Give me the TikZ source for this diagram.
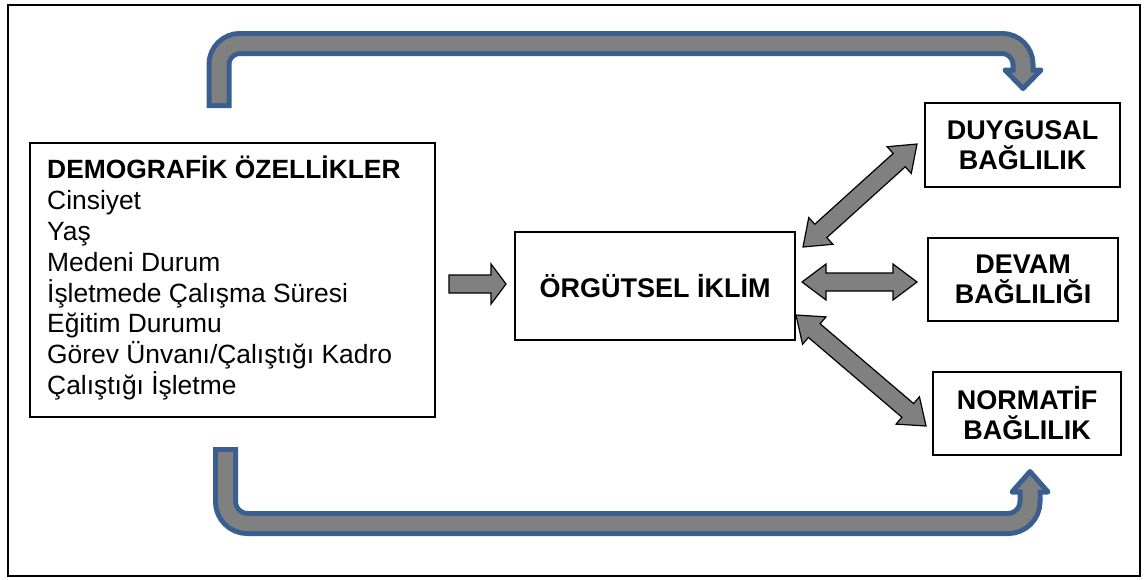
\documentclass[tikz,border=0pt]{standalone}
\usepackage{fontspec}
\setmainfont{Liberation Sans}
\usetikzlibrary{calc}

\definecolor{bandblue}{HTML}{3A5F8F}
\definecolor{bandgray}{HTML}{808080}

\tikzset{
  box/.style={draw=black, line width=2pt, fill=white, inner sep=0pt},
  title/.style={font=\bfseries\fontsize{27}{30}\selectfont, align=center},
  block/.style={draw=black, line width=1.2pt, fill=bandgray, line join=miter},
  bandout/.style={draw=bandblue, line width=25pt, line cap=butt},
  bandin/.style={draw=bandgray, line width=15pt, line cap=butt},
  bandhead/.style={draw=bandblue, fill=bandgray, line width=5pt, line join=round},
}

% two-headed block arrow between two named points
\newcommand\twowayblock[2]{%
  \pgfpointdiff{\pgfpointanchor{#1}{center}}{\pgfpointanchor{#2}{center}}%
  \pgfgetlastxy{\twdx}{\twdy}%
  \pgfmathsetmacro\twang{atan2(\twdy,\twdx)}%
  \pgfmathsetmacro\twlen{veclen(\twdx,\twdy)}%
  \begin{scope}[shift={(#1)}, rotate=\twang, x=1pt, y=1pt]
    \draw[block] (0,0) -- (24,18) -- (24,9) -- (\twlen-24,9) -- (\twlen-24,18)
      -- (\twlen,0) -- (\twlen-24,-18) -- (\twlen-24,-9) -- (24,-9) -- (24,-18) -- cycle;
  \end{scope}}

% one-headed block arrow from tail #1 to tip #2
\newcommand\onewayblock[2]{%
  \pgfpointdiff{\pgfpointanchor{#1}{center}}{\pgfpointanchor{#2}{center}}%
  \pgfgetlastxy{\owdx}{\owdy}%
  \pgfmathsetmacro\owang{atan2(\owdy,\owdx)}%
  \pgfmathsetmacro\owlen{veclen(\owdx,\owdy)}%
  \begin{scope}[shift={(#1)}, rotate=\owang, x=1pt, y=1pt]
    \draw[block] (0,9) -- (\owlen-15,9) -- (\owlen-15,20) -- (\owlen,0)
      -- (\owlen-15,-20) -- (\owlen-15,-9) -- (0,-9) -- cycle;
  \end{scope}}

\begin{document}
\begin{tikzpicture}[x=1pt, y=-1pt]
\useasboundingbox (0,0) rectangle (1145,579);
\draw[line width=2.5pt] (8,5) rectangle (1140,576);

% boxes
\node[box, minimum width=405pt, minimum height=274pt] (demo) at (232.5,280) {};
\node[anchor=north west, inner sep=0pt, align=left,
      font=\fontsize{26.4}{30.8}\selectfont] (demotext) at (47,156)
  {\textbf{DEMOGRAFİK ÖZELLİKLER}\\Cinsiyet\\Yaş\\Medeni Durum\\İşletmede Çalışma Süresi\\Eğitim Durumu\\Görev Ünvanı/Çalıştığı Kadro\\Çalıştığı İşletme};
\node[box, title, minimum width=280pt, minimum height=108pt] (org) at (655,286) {ÖRGÜTSEL İKLİM};
\node[box, title, minimum width=195pt, minimum height=84pt] (duy) at (1022.5,145) {DUYGUSAL\\BAĞLILIK};
\node[box, title, minimum width=190pt, minimum height=83pt] (dev) at (1023,279.5) {DEVAM\\BAĞLILIĞI};
\node[box, title, minimum width=188pt, minimum height=83pt] (nor) at (1027,413.5) {NORMATİF\\BAĞLILIK};

% block arrow end points
\coordinate (a1) at ($(demo.east)+(13,4)$);
\coordinate (a2) at ($(org.west)+(-8,-2)$);
\coordinate (d1) at ($(org.north east)+(7,16)$);
\coordinate (d2) at ($(duy.west)+(-7,-1)$);
\coordinate (v1) at ($(org.east)+(6,-4)$);
\coordinate (v2) at ($(dev.west)+(-10,2.5)$);
\coordinate (n1) at ($(org.east)+(0,29)$);
\coordinate (n2) at ($(nor.west)+(-6,12.5)$);

\onewayblock{a1}{a2}
\twowayblock{d1}{d2}
\twowayblock{v1}{v2}
\twowayblock{n1}{n2}

% upper band arrow: demographics -> affective commitment
\coordinate (t0) at ($(demo.north)+(-13.5,-34)$);
\coordinate (t3) at ($(duy.north)+(0.5,-11)$);
\coordinate (tlev) at (0,43.5);
\draw[bandout, rounded corners=21pt] (t0) -- (t0 |- tlev) -- (t3 |- tlev) -- ($(t3)+(0,-21)$);
\draw[bandhead] ($(t3)+(-18,-21)$) -- ($(t3)+(18,-21)$) -- ($(t3)+(0,-2.5)$) -- cycle;
\draw[bandin, rounded corners=21pt] ($(t0)+(0,-5)$) -- (t0 |- tlev) -- (t3 |- tlev) -- ($(t3)+(0,-16)$);

% lower band arrow: demographics -> normative commitment
\coordinate (b0) at ($(demo.south)+(-7,29)$);
\coordinate (b3) at ($(nor.south)+(3,13)$);
\coordinate (blev) at (0,523.5);
\draw[bandout, rounded corners=22pt] (b0) -- (b0 |- blev) -- (b3 |- blev) -- ($(b3)+(0,23)$);
\draw[bandhead] ($(b3)+(-18,23)$) -- ($(b3)+(18,23)$) -- ($(b3)+(0,2.5)$) -- cycle;
\draw[bandin, rounded corners=22pt] ($(b0)+(0,5)$) -- (b0 |- blev) -- (b3 |- blev) -- ($(b3)+(0,18)$);
\end{tikzpicture}
\end{document}
